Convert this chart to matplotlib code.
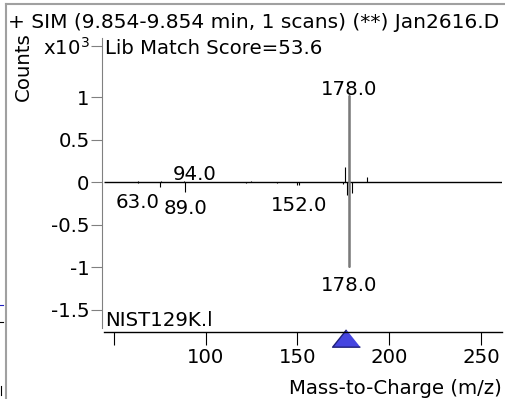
import matplotlib
matplotlib.use("Agg")
import matplotlib.pyplot as plt
from matplotlib.lines import Line2D

plt.rcParams['font.family'] = ['DejaVu Sans']

# sample spectrum (upper, x10^3 counts)
sample_mz = [63, 76, 88, 125, 176, 178, 188]
sample_int = [0.01, 0.01, 0.02, 0.01, 0.18, 1.03, 0.06]

# library spectrum (lower, mirrored)
lib_mz = [63, 75, 89, 122, 139, 150, 151, 175, 177, 178, 180]
lib_int = [-0.01, -0.05, -0.11, -0.01, -0.01, -0.035, -0.035, -0.02, -0.15, -1.0, -0.12]

# peak labels
lab_mz = [178, 94, 63, 89, 151, 178]
lab_y = [0.98, -0.015, -0.12, -0.195, -0.165, -1.10]
lab_txt = ['178.0', '94.0', '63.0', '89.0', '152.0', '178.0']
lab_up = [True, True, False, False, False, False]

marker_mz = 176.3

xticks = [50, 100, 150, 200, 250]
xticklabels = ['', '100', '150', '200', '250']
yticks = [-1.5, -1, -0.5, 0, 0.5, 1, 1.6]
yticklabels = ['-1.5', '-1', '-0.5', '0', '0.5', '1', r'x10$\mathregular{^3}$']

title = '+ SIM (9.854-9.854 min, 1 scans) (**) Jan2616.D'
score = 'Lib Match Score=53.6'
libname = 'NIST129K.l'

W, H = 505, 399
fs = 14.2
fig = plt.figure(figsize=(W / 100, H / 100), dpi=100)
ax = fig.add_axes([102 / W, 1 - 332 / H, 400 / W, 294 / H])
ax.set_xlim(43.6, 261.5)
ax.set_ylim(-1.761, 1.698)

for s in ['top', 'right']:
    ax.spines[s].set_visible(False)
ax.spines['left'].set_color('#808080')
ax.spines['left'].set_bounds(-1.714, 1.698)
ax.spines['bottom'].set_bounds(44.7, 261.5)
ax.spines['bottom'].set_linewidth(1.0)

ax.set_xticks(xticks)
ax.set_xticklabels(xticklabels, fontsize=fs)
ax.set_yticks(yticks)
ax.set_yticklabels(yticklabels, fontsize=fs)
ax.tick_params(axis='y', length=8, color='#808080', pad=1)
ax.tick_params(axis='x', length=9.5, color='black', pad=2)

ax.hlines(0, 44.7, 261.5, color='black', lw=1.0)
ax.vlines(sample_mz, 0, sample_int, color='black', lw=0.8)
ax.vlines(lib_mz, 0, lib_int, color='black', lw=0.8)
ax.vlines([178], [lib_int[9]], [sample_int[5]], color='#7a7a7a', lw=1.8)

for m, y, t, up in zip(lab_mz, lab_y, lab_txt, lab_up):
    ax.text(m, y, t, ha='center', va='bottom' if up else 'top', fontsize=fs)

ax.plot([marker_mz], [-0.019], transform=ax.get_xaxis_transform(),
        marker=[(0, 1), (-1.6, -1), (1.6, -1)], markersize=20,
        markerfacecolor='#4545e0', markeredgecolor='#20207a', mew=1,
        clip_on=False, ls='none')

fig.text(8 / W, 1 - 22 / H, title, fontsize=14.5, va='center', ha='left')
fig.text(105 / W, 1 - 48 / H, score, fontsize=fs, va='center', ha='left')
fig.text(105 / W, 1 - 320 / H, libname, fontsize=fs, va='center', ha='left')
fig.text(23 / W, 1 - 67 / H, 'Counts', fontsize=fs, va='center', ha='center', rotation=90)
fig.text(502 / W, 1 - 388 / H, 'Mass-to-Charge (m/z)', fontsize=fs, va='center', ha='right')

# window frame edges
fig.add_artist(Line2D([6 / W, 6 / W], [0, 1 - 4 / H], color='#a0a0a0', lw=1.5))
fig.add_artist(Line2D([6 / W, 1], [1 - 4 / H, 1 - 4 / H], color='#a0a0a0', lw=1.5))
fig.add_artist(Line2D([0, 3 / W], [1 - 305 / H, 1 - 305 / H], color='#2020c0', lw=0.8))
fig.add_artist(Line2D([0, 3 / W], [1 - 322 / H, 1 - 322 / H], color='black', lw=0.8))
fig.add_artist(Line2D([1 / W, 1 / W], [1 - 395 / H, 1 - 386 / H], color='black', lw=0.8))

fig.savefig('out.png', dpi=100)
